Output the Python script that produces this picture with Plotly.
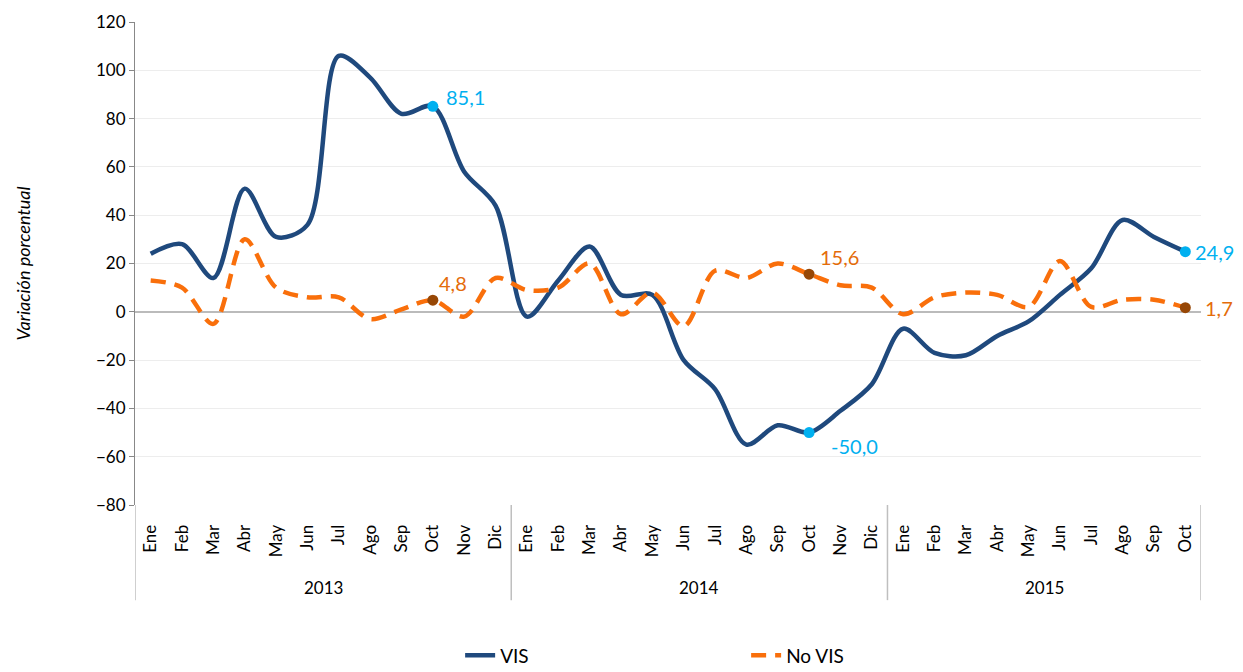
import plotly.graph_objects as go

months = ["Ene", "Feb", "Mar", "Abr", "May", "Jun", "Jul", "Ago", "Sep", "Oct", "Nov", "Dic"]
year_names = ["2013", "2014", "2015"]
year_counts = [12, 12, 10]
month_labels = months + months + months[:10]

vis = [24, 28, 14, 51, 31, 36, 106, 97, 82, 85.1, 58, 44,
       -2, 13, 27, 7, 7, -20, -32, -55, -47, -50.0, -41, -30,
       -7, -17, -18, -10, -4, 7, 18, 38, 31, 24.9]
no_vis = [13, 10, -5, 30, 10, 6, 6, -3, 1, 4.8, -2, 14,
          9, 10, 20, -1, 8, -6, 17, 14, 20, 15.6, 11, 10,
          -1, 6, 8, 7, 2, 21, 2, 5, 5, 1.7]

hl_idx = [9, 21, 33]
vis_labels = ["85,1", "-50,0", "24,9"]
novis_labels = ["4,8", "15,6", "1,7"]

x = list(range(len(month_labels)))
FONT = "Lato"
fig = go.Figure()
fig.add_trace(go.Scatter(x=x, y=vis, mode="lines", name="VIS",
                         line=dict(color="#1F497D", width=4.5, shape="spline", smoothing=0.9)))
fig.add_trace(go.Scatter(x=x, y=no_vis, mode="lines", name="No VIS",
                         line=dict(color="#F96F0B", width=4.5, dash="15px,9px", shape="spline", smoothing=0.9)))
fig.add_trace(go.Scatter(x=[x[i] for i in hl_idx], y=[vis[i] for i in hl_idx],
                         mode="markers", showlegend=False, cliponaxis=False,
                         marker=dict(color="#00B0F0", size=11)))
fig.add_trace(go.Scatter(x=[x[i] for i in hl_idx], y=[no_vis[i] for i in hl_idx],
                         mode="markers", showlegend=False, cliponaxis=False,
                         marker=dict(color="#974706", size=11)))

vis_shift = [(11, 9), (20, -13), (8, 0)]
novis_shift = [(4, 17), (9, 17), (18, 0)]
for i, lab, (dx, dy) in zip(hl_idx, vis_labels, vis_shift):
    fig.add_annotation(x=x[i], y=vis[i], text=lab, showarrow=False, xanchor="left", yanchor="middle",
                       xshift=dx, yshift=dy, font=dict(color="#00B0F0", size=20, family=FONT))
for i, lab, (dx, dy) in zip(hl_idx, novis_labels, novis_shift):
    fig.add_annotation(x=x[i], y=no_vis[i], text=lab, showarrow=False, xanchor="left", yanchor="middle",
                       xshift=dx, yshift=dy, font=dict(color="#E46C0A", size=20, family=FONT))

# year group labels and dividers
start = 0
bounds = [-0.5]
for name, n in zip(year_names, year_counts):
    fig.add_annotation(x=start + (n - 1) / 2, y=-0.17, xref="x", yref="paper",
                       text=name, showarrow=False, font=dict(size=17, family=FONT),
                       xanchor="center", yanchor="middle")
    start += n
    bounds.append(start - 0.5)
for b in bounds:
    fig.add_shape(type="line", x0=b, x1=b, y0=0, y1=-0.197, xref="x", yref="paper",
                  line=dict(color="#BFBFBF", width=1.5))

fig.add_annotation(x=-0.106, y=0.5, xref="paper", yref="paper", text="<i>Variación porcentual</i>",
                   textangle=-90, showarrow=False, xanchor="center", yanchor="middle",
                   font=dict(size=18, family=FONT))

fig.update_layout(
    width=1235, height=664,
    margin=dict(l=127, r=42, t=14, b=167, autoexpand=False),
    plot_bgcolor="white", paper_bgcolor="white",
    font=dict(family=FONT, size=17, color="#000000"),
    legend=dict(orientation="h", x=0.305, xanchor="left", y=-0.272, yanchor="top",
                font=dict(size=19), entrywidth=241, entrywidthmode="pixels"),
    xaxis=dict(range=[-0.5, len(month_labels) - 0.5], tickmode="array", tickvals=x,
               ticktext=month_labels, tickangle=-90, showgrid=False, automargin=False,
               showline=False, ticks="outside", ticklen=12, tickcolor="rgba(0,0,0,0)",
               tickfont=dict(size=17), zeroline=False),
    yaxis=dict(range=[-80, 120], dtick=20, showgrid=True, gridcolor="#EDEDED", automargin=False,
               showline=True, linecolor="#888888", ticks="outside", tickcolor="#888888",
               ticklen=5, zeroline=True, zerolinecolor="#BBBBBB", zerolinewidth=1.5,
               tickfont=dict(size=17)),
)
fig.write_html("out.html")
